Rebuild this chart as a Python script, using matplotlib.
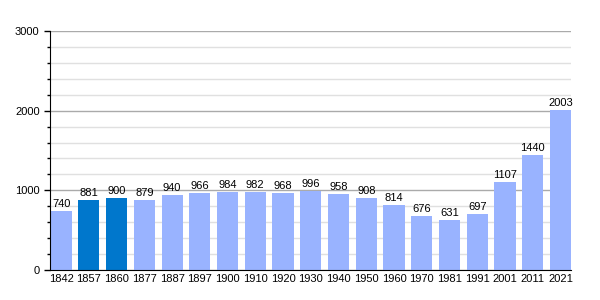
import matplotlib
matplotlib.use("Agg")
import matplotlib.pyplot as plt
from matplotlib.ticker import MultipleLocator

years = ["1842", "1857", "1860", "1877", "1887", "1897", "1900", "1910", "1920", "1930",
         "1940", "1950", "1960", "1970", "1981", "1991", "2001", "2011", "2021"]
population = [740, 881, 900, 879, 940, 966, 984, 982, 968, 996,
              958, 908, 814, 676, 631, 697, 1107, 1440, 2003]
highlight = ["1857", "1860"]

plt.rcParams['font.family'] = ['Liberation Sans', 'DejaVu Sans']

fig = plt.figure(figsize=(6, 3), dpi=100)
ax = fig.add_axes([50 / 600, 30 / 300, 521 / 600, 239 / 300])

colors = ['#0077cc' if y in highlight else '#99b3ff' for y in years]
x = range(len(years))
bars = ax.bar(x, population, width=0.76, color=colors, zorder=3)

# value labels above bars
for xi, v in zip(x, population):
    ax.text(xi, v + 25, str(v), ha='center', va='bottom', fontsize=8, color='black', zorder=4)

ax.set_xlim(-0.40, 18.38)
ax.set_ylim(0, 3000)
ax.set_xticks(list(x))
ax.set_xticklabels(years, fontsize=8)
ax.yaxis.set_major_locator(MultipleLocator(1000))
ax.yaxis.set_minor_locator(MultipleLocator(200))
ax.tick_params(axis='y', which='major', length=4, width=1, labelsize=8, pad=3.5)
ax.tick_params(axis='y', which='minor', length=2.5, width=1)
ax.tick_params(axis='x', length=0, pad=3)

ax.grid(axis='y', which='minor', color='#e0e0e0', linewidth=1, zorder=0)
ax.grid(axis='y', which='major', color='#aaaaaa', linewidth=1, zorder=1)

for s in ['top', 'right']:
    ax.spines[s].set_visible(False)
ax.spines['left'].set_color('black')
ax.spines['bottom'].set_color('black')
ax.spines['left'].set_zorder(5)
ax.spines['bottom'].set_zorder(5)

fig.savefig("out.png", dpi=100)
